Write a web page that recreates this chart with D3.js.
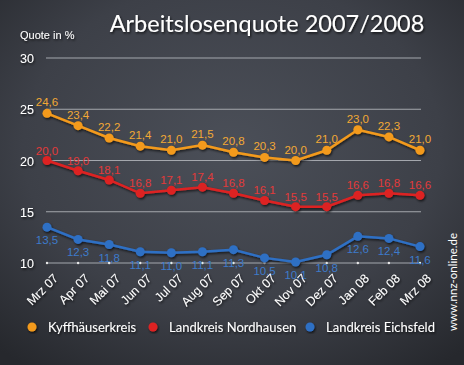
<!DOCTYPE html>
<html>
<head>
<meta charset="utf-8">
<script src="https://cdn.jsdelivr.net/npm/d3@7"></script>
<style>
  html, body { margin: 0; padding: 0; background: #33363d; }
  svg { display: block; }
</style>
</head>
<body>
<div id="chart"></div>
<script>
// months on the x axis
const months = ['Mrz 07', 'Apr 07', 'Mai 07', 'Jun 07', 'Jul 07', 'Aug 07', 'Sep 07',
  'Okt 07', 'Nov 07', 'Dez 07', 'Jan 08', 'Feb 08', 'Mrz 08'];
const kyffhaeuser = [24.6, 23.4, 22.2, 21.4, 21.0, 21.5, 20.8, 20.3, 20.0, 21.0, 23.0, 22.3, 21.0];
const nordhausen = [20.0, 19.0, 18.1, 16.8, 17.1, 17.4, 16.8, 16.1, 15.5, 15.5, 16.6, 16.8, 16.6];
const eichsfeld = [13.5, 12.3, 11.8, 11.1, 11.0, 11.1, 11.3, 10.5, 10.1, 10.8, 12.6, 12.4, 11.6];
const yTicks = [10, 15, 20, 25, 30];
const seriesNames = ['Kyffhäuserkreis', 'Landkreis Nordhausen', 'Landkreis Eichsfeld'];

const width = 464, height = 365;
const svg = d3.select('#chart').append('svg').attr('width', width).attr('height', height);

const defs = svg.append('defs');
let bg = defs.append('radialGradient').attr('id', 'bg').attr('cx', '50%').attr('cy', '40%').attr('r', '75%');
bg.append('stop').attr('offset', '0%').attr('stop-color', '#4b4f58');
bg.append('stop').attr('offset', '60%').attr('stop-color', '#3d4048');
bg.append('stop').attr('offset', '100%').attr('stop-color', '#26282d');
let sh = defs.append('filter').attr('id', 'shadow').attr('x', '-20%').attr('y', '-20%').attr('width', '140%').attr('height', '140%');
sh.append('feDropShadow').attr('dx', 1).attr('dy', 1.5).attr('stdDeviation', 1).attr('flood-color', '#000').attr('flood-opacity', 0.7);

svg.append('rect').attr('width', width).attr('height', height).attr('fill', 'url(#bg)');

const x = d3.scalePoint().domain(months).range([47, 420]);
const y = d3.scaleLinear().domain([10, 30]).range([263, 58]);

// grid
svg.append('g').selectAll('line').data(yTicks).enter().append('line')
  .attr('x1', 46).attr('x2', 421)
  .attr('y1', d => y(d)).attr('y2', d => y(d))
  .attr('stroke', '#a4a7ad').attr('stroke-width', 1.2);

// small dots on base line
svg.append('g').selectAll('circle').data(months).enter().append('circle')
  .attr('cx', d => x(d)).attr('cy', y(10)).attr('r', 1.2).attr('fill', '#e8e8e8');

svg.append('g').attr('filter', 'url(#shadow)').selectAll('text').data(yTicks).enter().append('text')
  .attr('x', 20).attr('y', d => y(d) + 5)
  .attr('fill', '#fff').attr('font-family', 'Liberation Sans, Arial, sans-serif').attr('font-size', 12.5)
  .text(d => d);

svg.append('text').attr('x', 20).attr('y', 39)
  .attr('fill', '#fff').attr('font-family', 'Liberation Sans, Arial, sans-serif').attr('font-size', 11)
  .attr('filter', 'url(#shadow)')
  .text('Quote in %');

svg.append('text').attr('x', 267).attr('y', 32).attr('text-anchor', 'middle')
  .attr('fill', '#fff').attr('font-family', 'Lato, sans-serif').attr('font-size', 23.5)
  .attr('filter', 'url(#shadow)')
  .text('Arbeitslosenquote 2007/2008');

const series = [
  {name: seriesNames[0], values: kyffhaeuser, color: '#f39a1c', label: '#f2a935', dy: -7},
  {name: seriesNames[1], values: nordhausen, color: '#dd2424', label: '#e23a3a', dy: -6},
  {name: seriesNames[2], values: eichsfeld, color: '#2f6fc4', label: '#3d7bcb', dy: 17}
];

const fmt = v => d3.format('.1f')(v).replace('.', ',');
const line = d3.line().x((d, i) => x(months[i])).y(d => y(d));

series.forEach(s => {
  let g = svg.append('g').attr('filter', 'url(#shadow)');
  g.append('path').datum(s.values).attr('d', line)
    .attr('fill', 'none').attr('stroke', s.color).attr('stroke-width', 2.5);
  g.selectAll('circle').data(s.values).enter().append('circle')
    .attr('cx', (d, i) => x(months[i])).attr('cy', d => y(d)).attr('r', 4.5)
    .attr('fill', s.color);
  svg.append('g').selectAll('text').data(s.values).enter().append('text')
    .attr('x', (d, i) => x(months[i])).attr('y', d => y(d) + s.dy)
    .attr('text-anchor', 'middle')
    .attr('fill', s.label).attr('font-family', 'Liberation Sans, Arial, sans-serif').attr('font-size', 11.5)
    .text(d => fmt(d));
});

// x labels
svg.append('g').attr('filter', 'url(#shadow)').selectAll('text').data(months).enter().append('text')
  .attr('transform', d => 'translate(' + (x(d) + 12) + ',279) rotate(-45)')
  .attr('text-anchor', 'end')
  .attr('fill', '#fff').attr('font-family', 'Liberation Sans, Arial, sans-serif').attr('font-size', 12.5)
  .text(d => d);

// legend
const legendX = [32, 153, 310];
series.forEach((s, i) => {
  let g = svg.append('g').attr('transform', 'translate(' + legendX[i] + ',327)');
  g.append('circle').attr('r', 4.5).attr('fill', s.color).attr('filter', 'url(#shadow)');
  g.append('text').attr('x', 16).attr('y', 4.5)
    .attr('fill', '#fff').attr('font-family', 'Lato, sans-serif').attr('font-size', 13)
    .attr('filter', 'url(#shadow)')
    .text(s.name);
});

svg.append('text').attr('transform', 'translate(457,282) rotate(-90)')
  .attr('text-anchor', 'middle')
  .attr('fill', '#fff').attr('font-family', 'Lato, sans-serif').attr('font-size', 11.5)
  .text('www.nnz-online.de');
</script>
</body>
</html>
